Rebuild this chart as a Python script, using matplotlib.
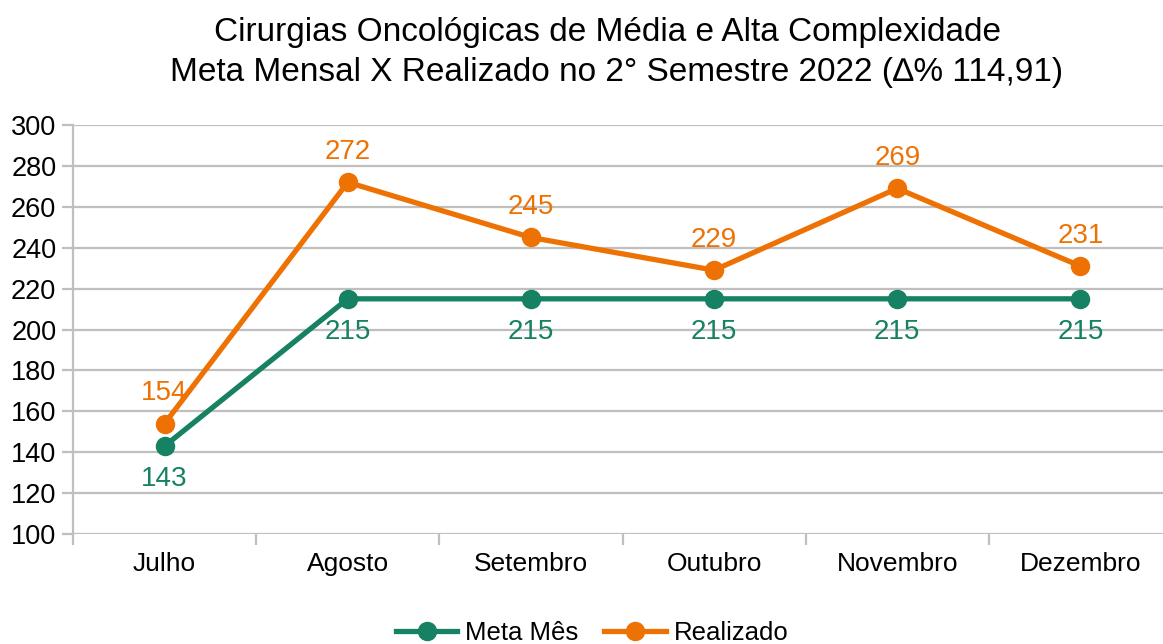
import matplotlib.pyplot as plt
import numpy as np

plt.rcParams['font.family'] = ['Liberation Sans', 'DejaVu Sans']

months = ['Julho', 'Agosto', 'Setembro', 'Outubro', 'Novembro', 'Dezembro']
meta = [143, 215, 215, 215, 215, 215]
realizado = [154, 272, 245, 229, 269, 231]

green = '#168163'
orange = '#ee7203'
grid_c = '#bfbfbf'

fig = plt.figure(figsize=(11.63, 6.44), dpi=100)
ax = fig.add_axes([73 / 1163, 1 - 534 / 644, (1172 - 73) / 1163, (534 - 125) / 644])

x = np.arange(len(months))
ax.plot(x, meta, color=green, lw=3.8, marker='o', ms=13, label='Meta Mês', zorder=3)
ax.plot(x, realizado, color=orange, lw=3.8, marker='o', ms=13, label='Realizado', zorder=4)

for xi, v in zip(x, meta):
    ax.annotate(str(v), (xi, v), xytext=(0, -24), textcoords='offset points',
                ha='center', va='center', fontsize=20, color=green)
for xi, v in zip(x, realizado):
    ax.annotate(str(v), (xi, v), xytext=(0, 22), textcoords='offset points',
                ha='center', va='center', fontsize=20, color=orange)

ax.set_xlim(-0.5, 5.5)
ax.set_ylim(100, 300)
ax.set_yticks(range(100, 301, 20))
ax.yaxis.grid(True, color=grid_c, lw=1.6)
ax.set_axisbelow(True)
for s in ['top', 'right', 'bottom']:
    ax.spines[s].set_visible(False)
ax.spines['left'].set_color(grid_c)
ax.spines['left'].set_linewidth(1.6)

ax.set_xticks(np.arange(-0.5, 6, 1))
ax.set_xticklabels([])
ax.set_xticks(x, minor=True)
ax.set_xticklabels(months, minor=True, fontsize=19)
ax.tick_params(axis='x', which='major', length=8, width=1.6, color=grid_c, direction='out')
ax.tick_params(axis='x', which='minor', length=0, pad=13)
ax.tick_params(axis='y', length=8, width=1.6, color=grid_c, labelsize=19.5, pad=4)

fig.text(608 / 1163, 1 - 32 / 644, 'Cirurgias Oncológicas de Média e Alta Complexidade',
         ha='center', va='center', fontsize=24)
fig.text(617 / 1163, 1 - 72 / 644, 'Meta Mensal X Realizado no 2° Semestre 2022 (∆% 114,91)',
         ha='center', va='center', fontsize=24)

fig.legend(loc='center', bbox_to_anchor=(592 / 1163, 1 - 633 / 644), ncol=2, frameon=False,
           fontsize=18.5, handlelength=2.4, columnspacing=1.0, handletextpad=0.3)

fig.savefig('out.png', dpi=100)
